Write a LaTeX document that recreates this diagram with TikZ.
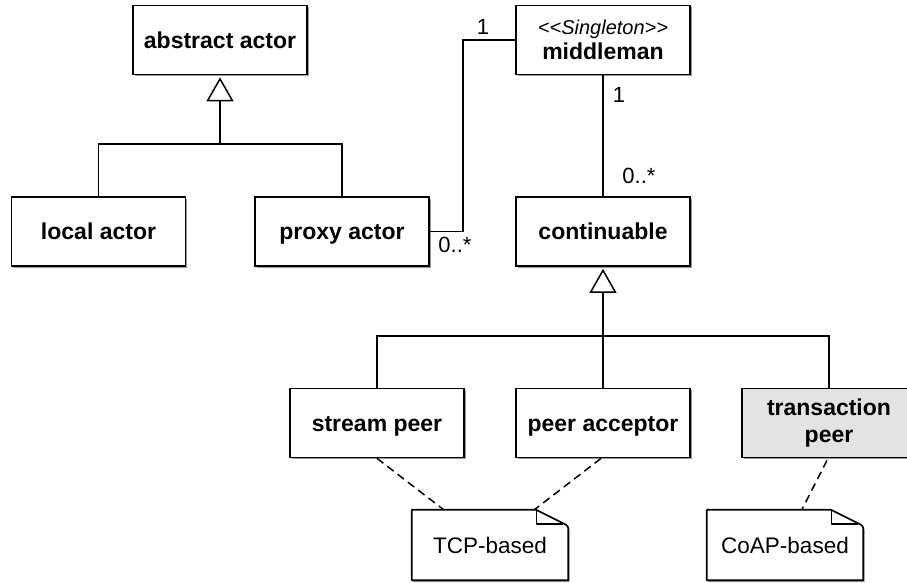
\documentclass[tikz,border=0pt]{standalone}
\usepackage{fontspec}
\setmainfont{Liberation Sans}
\usetikzlibrary{arrows.meta,shadows,calc}
\begin{document}
\begin{tikzpicture}[x=1pt,y=-1pt,
  shad/.style={drop shadow={shadow xshift=1.5pt, shadow yshift=-1.8pt, fill=black, opacity=0.4}},
  box/.style={draw, line width=1.7pt, fill=white, shad, minimum width=174pt, minimum height=69pt,
    inner sep=0pt, align=center, font=\fontsize{23}{27}\selectfont\bfseries},
  one/.style={text height=16.5pt, text depth=0pt},
  link/.style={line width=1.5pt},
  gen/.style={line width=1.5pt, -{Triangle[open, length=24pt, width=27pt, line width=1.5pt]}, shorten >=2pt},
  mult/.style={inner sep=0pt, font=\fontsize{22}{26}\selectfont},
  note/.style={inner sep=0pt, minimum width=156pt, minimum height=70pt, font=\fontsize{22.5}{26}\selectfont},
  noteline/.style={line width=1.7pt, fill=white, shad, line join=round},
  anchorline/.style={line width=1.5pt, dash pattern=on 8pt off 5pt}
]
\useasboundingbox (0,0) rectangle (907,582);
\clip (0,0) rectangle (907,582);

% classes
\node[box,one] (abs)    at (220,40)    {abstract actor};
\node[box,one] (local)  at (98.5,231.5) {local actor};
\node[box,one] (proxy)  at (342,231.5) {proxy actor};
\node[box] (mid)        at (603,40)    {{\fontsize{20}{23}\selectfont\mdseries\itshape <{}<Singleton>{}>}\\[-2pt]middleman};
\node[box,one] (cont)   at (603,231.5) {continuable};
\node[box,one] (stream) at (377,423)   {stream peer};
\node[box,one] (acc)    at (603,423)   {peer acceptor};
\node[box,fill=black!11] (trans) at (829,423) {transaction\\peer};

% generalisation: actors
\coordinate (j1) at (220,144);
\draw[link] (local.north) |- (j1) -| (proxy.north);
\draw[gen] (j1) -- (abs.south);

% generalisation: continuables
\coordinate (j2) at (603,336);
\draw[link] (stream.north) |- (j2) -| (trans.north);
\draw[link] (acc.north) -- (j2);
\draw[gen] (j2) -- (cont.south);

% associations
\coordinate (a1) at (463,40);
\draw[link] (proxy.east) -| (a1) -- (mid.west);
\draw[link] (mid.south) -- (cont.north);
\node[mult] (m1) at (483,27) {1};
\node[mult] (m2) at (455,245) {0..*};
\node[mult] (m3) at (619,95) {1};
\node[mult] (m4) at (639,176) {0..*};

% notes
\node[note] (tcp) at (490,545) {};
\draw[noteline] (tcp.south west) -- (tcp.north west) -- ($(tcp.north east)+(-32,0)$)
  -- ($(tcp.north east)+(-6,13)$) .. controls ($(tcp.north east)+(0,16)$) .. ($(tcp.north east)+(0,21)$)
  -- (tcp.south east) -- cycle;
\draw[line width=1.4pt, line join=round] ($(tcp.north east)+(-32,0)$) -- ($(tcp.north east)+(-32,14)$) -- ($(tcp.north east)+(-5,14)$);
\node[note] (tcpt) at (tcp) {TCP-based};

\node[note] (coap) at (785,545) {};
\draw[noteline] (coap.south west) -- (coap.north west) -- ($(coap.north east)+(-32,0)$)
  -- ($(coap.north east)+(-6,13)$) .. controls ($(coap.north east)+(0,16)$) .. ($(coap.north east)+(0,21)$)
  -- (coap.south east) -- cycle;
\draw[line width=1.4pt, line join=round] ($(coap.north east)+(-32,0)$) -- ($(coap.north east)+(-32,14)$) -- ($(coap.north east)+(-5,14)$);
\node[note] (coapt) at (coap) {CoAP-based};

\coordinate (tcpA) at ($(tcp.north west)+(32,0)$);
\coordinate (tcpB) at ($(tcp.north east)+(-34,0)$);
\coordinate (coapA) at ($(coap.north west)+(95,0)$);
\draw[anchorline] (stream.south) -- (tcpA);
\draw[anchorline] ($(acc.south)+(-2,0)$) -- (tcpB);
\draw[anchorline] ($(trans.south)+(-2,2)$) -- (coapA);
\end{tikzpicture}
\end{document}
